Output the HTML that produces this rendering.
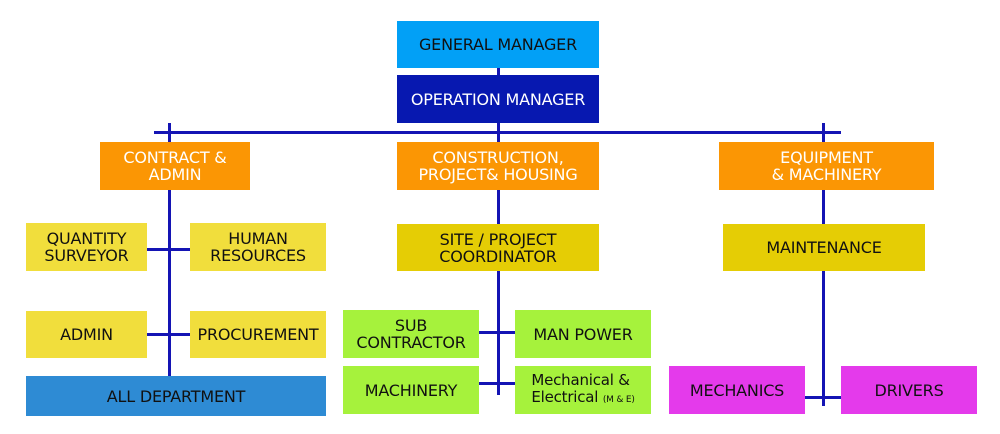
<!DOCTYPE html>
<html><head><meta charset="utf-8"><style>
body{margin:0;width:1000px;height:434px;background:#fff;position:relative;overflow:hidden;font-family:"DejaVu Sans","Liberation Sans",sans-serif;}
.b{position:absolute;display:flex;align-items:center;justify-content:center;text-align:center;font-size:16px;line-height:17px;color:#111;letter-spacing:-0.2px;}
.l{position:absolute;background:#1414b4;}
.o{background:#FB9604;color:#fff;}
.y{background:#F1DE3C;}
.d{background:#E5CD05;}
.g{background:#A6F23C;}
.m{background:#E43AEB;}
</style></head><body>
<div class="l" style="left:497px;top:68px;width:3px;height:8px"></div>
<div class="l" style="left:497px;top:123px;width:3px;height:20px"></div>
<div class="l" style="left:154px;top:131px;width:687px;height:3px"></div>
<div class="l" style="left:168px;top:123px;width:3px;height:20px"></div>
<div class="l" style="left:822px;top:123px;width:3px;height:20px"></div>
<div class="l" style="left:168px;top:190px;width:3px;height:186px"></div>
<div class="l" style="left:147px;top:248px;width:43px;height:3px"></div>
<div class="l" style="left:147px;top:333px;width:43px;height:3px"></div>
<div class="l" style="left:497px;top:190px;width:3px;height:205px"></div>
<div class="l" style="left:479px;top:331px;width:36px;height:3px"></div>
<div class="l" style="left:479px;top:382px;width:36px;height:3px"></div>
<div class="l" style="left:822px;top:190px;width:3px;height:216px"></div>
<div class="l" style="left:805px;top:396px;width:36px;height:3px"></div>
<div class="b" style="left:397px;top:21px;width:202px;height:47px;background:#02A0F6">GENERAL MANAGER</div>
<div class="b" style="left:397px;top:75px;width:202px;height:48px;background:#0718B0;color:#fff">OPERATION MANAGER</div>
<div class="b o" style="left:100px;top:142px;width:150px;height:48px">CONTRACT &amp;<br>ADMIN</div>
<div class="b o" style="left:397px;top:142px;width:202px;height:48px">CONSTRUCTION,<br>PROJECT&amp; HOUSING</div>
<div class="b o" style="left:719px;top:142px;width:215px;height:48px">EQUIPMENT<br>&amp; MACHINERY</div>
<div class="b y" style="left:26px;top:223px;width:121px;height:48px">QUANTITY<br>SURVEYOR</div>
<div class="b y" style="left:190px;top:223px;width:136px;height:48px">HUMAN<br>RESOURCES</div>
<div class="b y" style="left:26px;top:311px;width:121px;height:47px">ADMIN</div>
<div class="b y" style="left:190px;top:311px;width:136px;height:47px">PROCUREMENT</div>
<div class="b" style="left:26px;top:376px;width:300px;height:40px;background:#2E8BD4">ALL DEPARTMENT</div>
<div class="b d" style="left:397px;top:224px;width:202px;height:47px">SITE / PROJECT<br>COORDINATOR</div>
<div class="b g" style="left:343px;top:310px;width:136px;height:48px">SUB<br>CONTRACTOR</div>
<div class="b g" style="left:515px;top:310px;width:136px;height:48px">MAN POWER</div>
<div class="b g" style="left:343px;top:366px;width:136px;height:48px">MACHINERY</div>
<div class="b g" style="left:515px;top:366px;width:136px;height:48px;font-size:15px"><div style="white-space:nowrap;text-align:left">Mechanical &amp;<br>Electrical <span style="font-size:9px">(M &amp; E)</span></div></div>
<div class="b d" style="left:723px;top:224px;width:202px;height:47px">MAINTENANCE</div>
<div class="b m" style="left:669px;top:366px;width:136px;height:48px">MECHANICS</div>
<div class="b m" style="left:841px;top:366px;width:136px;height:48px">DRIVERS</div>
</body></html>
